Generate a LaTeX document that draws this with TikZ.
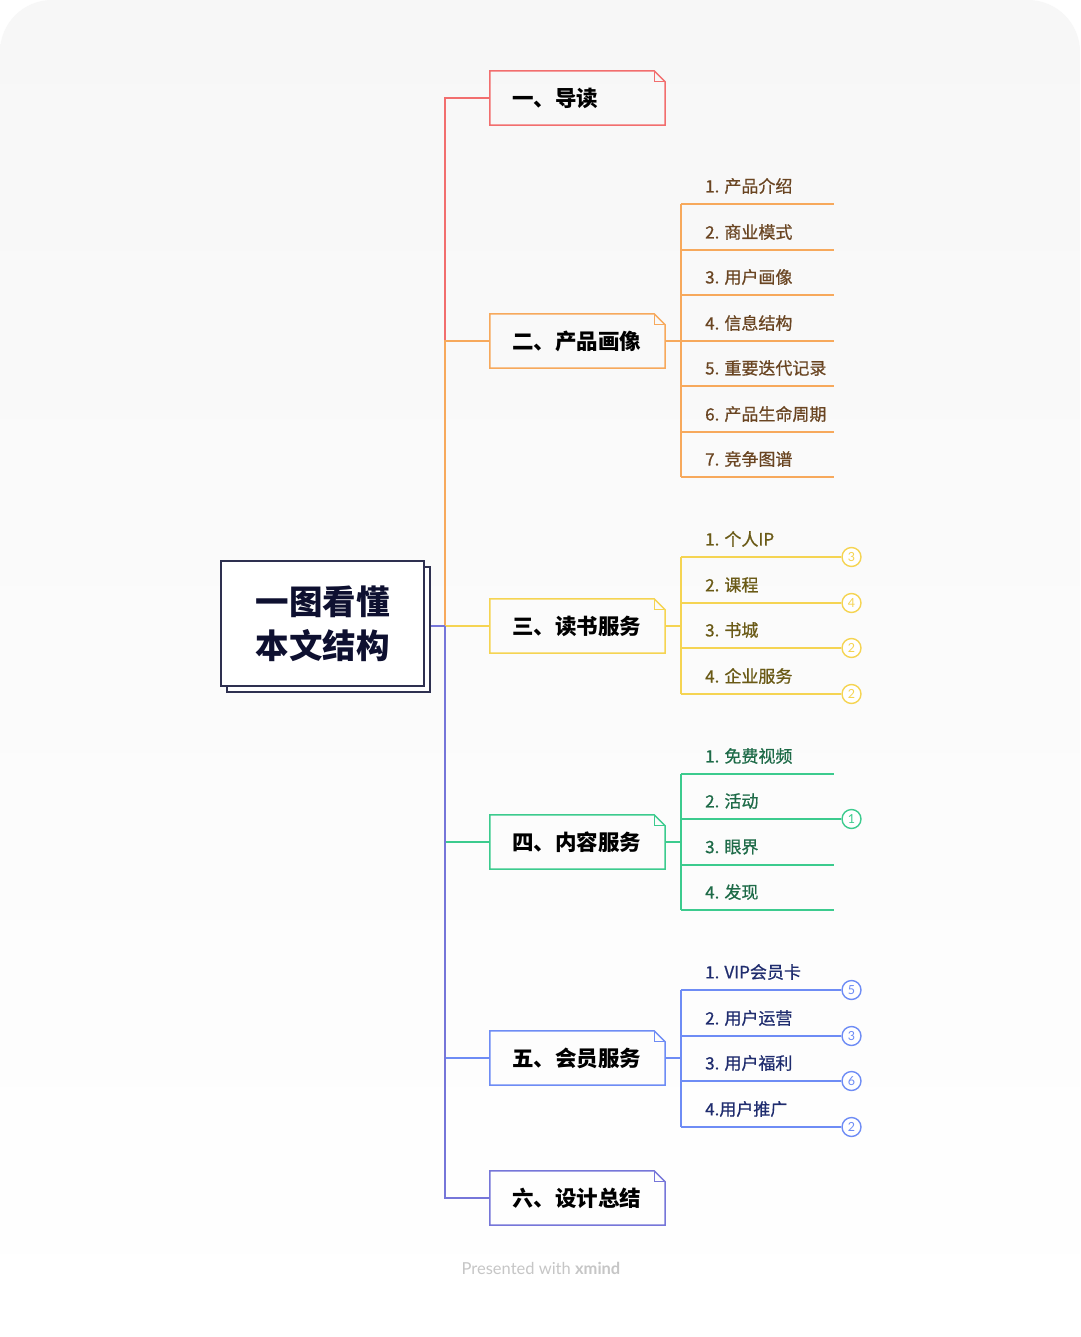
\documentclass[tikz,border=0pt]{standalone}
\usepackage{fontspec}
\newfontfamily\cjk{Noto Sans CJK SC}
\newfontfamily\cjkm[FakeBold=0.7]{Noto Sans CJK SC}
\newfontfamily\footfont{Lato}
\usetikzlibrary{calc}
\definecolor{bgtop}{HTML}{F7F7F7}
\definecolor{redc}{HTML}{F26E6E}
\definecolor{orangec}{HTML}{F7A95C}
\definecolor{yellowc}{HTML}{F5D452}
\definecolor{greenc}{HTML}{3CCB8E}
\definecolor{bluec}{HTML}{6E8CF5}
\definecolor{purplec}{HTML}{7676D9}
\definecolor{rootc}{HTML}{2E3050}
\definecolor{roottext}{HTML}{0E1030}
\definecolor{brownt}{HTML}{6A4522}
\definecolor{olivet}{HTML}{6A5A16}
\definecolor{greent}{HTML}{1E6B48}
\definecolor{bluet}{HTML}{1F2C6E}
\definecolor{footc}{HTML}{C6C6C6}
\newcommand\foldbox[2]{%
  \draw[#2, secline] (#1.south west) -- (#1.north west) -- ([xshift=-11pt]#1.north east) -- ([yshift=-11pt]#1.north east) -- (#1.south east) -- cycle;
  \draw[#2, line width=1.1pt] ([xshift=-11pt]#1.north east) |- ([yshift=-11pt]#1.north east);
}
\begin{document}
\begin{tikzpicture}[x=1pt,y=-1pt,
  secline/.style={line width=1.5pt, line join=miter},
  brl/.style={line width=1.5pt},
  rootbox/.style={draw=rootc, line width=2pt, fill=white, minimum width=203pt, minimum height=125pt, inner sep=0pt},
  secbox/.style={inner xsep=22pt, inner ysep=0pt, text width=131pt, minimum height=54pt, align=left,
     font=\cjk\bfseries\fontsize{21.5}{26}\selectfont, text=black},
  item/.style={anchor=west, inner sep=0pt, font=\cjkm\fontsize{17}{20}\selectfont},
  circ/.style={circle, draw, line width=1.4pt, minimum size=19pt, inner sep=0pt, fill=white,
     font=\footfont\fontsize{12.5}{12.5}\selectfont}
]
\useasboundingbox (0,0) rectangle (1080,1337);
\fill[white] (0,0) rectangle (1080,1337);
\shade[top color=bgtop, bottom color=white, rounded corners=52pt] (0,0) rectangle (1080,1337);

% root
\node[rootbox] (rootsh) at (328.5,629.5) {};
\node[rootbox, align=center, font=\cjk\bfseries\fontsize{33.5}{44}\selectfont, text=roottext] (root) at (322.5,623.5) {一图看懂\\本文结构};
\coordinate (hub) at (445,626);

% sections
\node[secbox] (s1) at (577.5,98) {一、导读};
\node[secbox] (s2) at (577.5,341) {二、产品画像};
\node[secbox] (s3) at (577.5,626) {三、读书服务};
\node[secbox] (s4) at (577.5,842) {四、内容服务};
\node[secbox] (s5) at (577.5,1058) {五、会员服务};
\node[secbox] (s6) at (577.5,1198) {六、设计总结};

% main branches (order matters for overlap)
\draw[redc, brl] (hub) |- (s1.west);
\draw[orangec, brl] (hub) |- (s2.west);
\draw[yellowc, brl] (hub) -- (s3.west);
\draw[greenc, brl] (hub) |- (s4.west);
\draw[bluec, brl] (hub) |- (s5.west);
\draw[purplec, brl] (hub) |- (s6.west);
\draw[purplec, brl] (rootsh.east |- hub) -- (hub);

\foldbox{s1}{redc}
\foldbox{s2}{orangec}
\foldbox{s3}{yellowc}
\foldbox{s4}{greenc}
\foldbox{s5}{bluec}
\foldbox{s6}{purplec}

% section 2 items
\foreach \t/\y [count=\i] in {1. 产品介绍/204, 2. 商业模式/250, 3. 用户画像/295, 4. 信息结构/341, 5. 重要迭代记录/386, 6. 产品生命周期/432, 7. 竞争图谱/477} {
  \coordinate (u2-\i) at (681,\y);
  \coordinate (e2-\i) at (834,\y);
  \node[item, text=brownt] (t2-\i) at (705,\y-18) {\t};
  \draw[orangec, brl] (u2-\i) -- (e2-\i);
}
\draw[orangec, brl] (s2.east) -- (s2.east -| u2-1);
\draw[orangec, brl] (u2-1) -- (u2-7);

% section 3 items
\foreach \t/\n/\y [count=\i] in {1. 个人IP/3/557, 2. 课程/4/603, 3. 书城/2/648, 4. 企业服务/2/694} {
  \coordinate (u3-\i) at (681,\y);
  \node[item, text=olivet] (t3-\i) at (705,\y-18) {\t};
  \node[circ, draw=yellowc, text=yellowc] (c3-\i) at (851.5,\y) {\n};
  \draw[yellowc, brl] (u3-\i) -- (c3-\i.west);
}
\draw[yellowc, brl] (s3.east) -- (s3.east -| u3-1);
\draw[yellowc, brl] (u3-1) -- (u3-4);

% section 4 items
\foreach \t/\y [count=\i] in {1. 免费视频/774, 2. 活动/819, 3. 眼界/865, 4. 发现/910} {
  \coordinate (u4-\i) at (681,\y);
  \coordinate (e4-\i) at (834,\y);
  \node[item, text=greent] (t4-\i) at (705,\y-18) {\t};
}
\node[circ, draw=greenc, text=greenc] (c4-2) at (851.5,819) {1};
\draw[greenc, brl] (u4-1) -- (e4-1);
\draw[greenc, brl] (u4-2) -- (c4-2.west);
\draw[greenc, brl] (u4-3) -- (e4-3);
\draw[greenc, brl] (u4-4) -- (e4-4);
\draw[greenc, brl] (s4.east) -- (s4.east -| u4-1);
\draw[greenc, brl] (u4-1) -- (u4-4);

% section 5 items
\foreach \t/\n/\y [count=\i] in {1. VIP会员卡/5/990, 2. 用户运营/3/1036, 3. 用户福利/6/1081, 4.用户推广/2/1127} {
  \coordinate (u5-\i) at (681,\y);
  \node[item, text=bluet] (t5-\i) at (705,\y-18) {\t};
  \node[circ, draw=bluec, text=bluec] (c5-\i) at (851.5,\y) {\n};
  \draw[bluec, brl] (u5-\i) -- (c5-\i.west);
}
\draw[bluec, brl] (s5.east) -- (s5.east -| u5-1);
\draw[bluec, brl] (u5-1) -- (u5-4);

% footer
\node[font=\footfont\fontsize{16.5}{18}\selectfont, text=footc] (foot) at (541,1268) {Presented with {\bfseries xmind}};
\end{tikzpicture}
\end{document}
